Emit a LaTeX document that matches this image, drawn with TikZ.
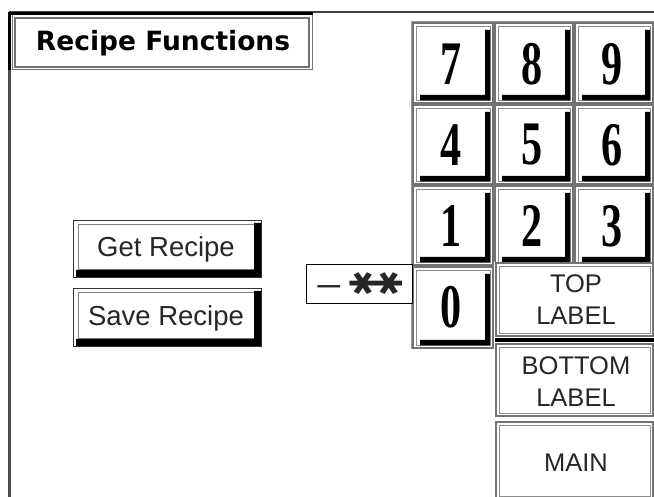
\documentclass[tikz,border=0pt]{standalone}
\usepackage{fontspec}
\usepackage{graphicx}
\newfontfamily\dvfont{DejaVu Sans}
\newfontfamily\arfont{Liberation Sans}
\newfontfamily\digfont{Liberation Serif}
\tikzset{
  keyout/.style={draw=black!55, line width=1.6pt},
  keyin/.style={draw=black!45, line width=0.9pt},
  digit/.style={inner sep=0pt, font=\digfont\bfseries\fontsize{62}{62}\selectfont},
  lbl/.style={inner sep=0pt, align=center, text=black!85, font=\arfont\fontsize{25.5}{32}\selectfont},
  btntext/.style={inner sep=0pt, text=black!85, font=\arfont\fontsize{27.5}{30}\selectfont},
}
\newcommand\keybox[4]{%
  \fill[white] (#1,#2) rectangle (#3,#4);
  \draw[keyout] (#1+1,#2+1) rectangle (#3-1,#4-1);
  \draw[keyin] (#1+4,#2+4) rectangle (#3-4,#4-4);
  \fill[black] (#3-4,#2+8) -- (#3-4,#4-3.5) -- (#1+8,#4-3.5) -- (#1+8,#4-9) -- (#3-9,#4-9) -- (#3-9,#2+8) -- cycle;
}
\newcommand\lblbox[4]{%
  \fill[white] (#1,#2) rectangle (#3,#4);
  \draw[keyout] (#1+1,#2+1) rectangle (#3-1,#4-1);
  \draw[keyin] (#1+4,#2+4) rectangle (#3-4,#4-4);
}
\newcommand\btnbox[4]{%
  \fill[white] (#1,#2) rectangle (#3,#4);
  \draw[black!80, line width=1.2pt] (#1+0.6,#2+0.6) rectangle (#3-0.6,#4-0.6);
  \draw[black!50, line width=1pt] (#1+5,#2+5) rectangle (#3-8,#4-8);
  \fill[black] (#3-1,#2+3) -- (#3-1,#4-1) -- (#1+3,#4-1) -- (#1+3,#4-8) -- (#3-8,#4-8) -- (#3-8,#2+3) -- cycle;
}
\begin{document}
\begin{tikzpicture}[x=1pt,y=-1pt]
\useasboundingbox (0,0) rectangle (654,497);
\fill[white] (0,0) rectangle (654,497);
% frame
\draw[black!75, line width=1.6pt] (9,12) -- (654,12);
\draw[black!70, line width=3pt] (9.5,12) -- (9.5,497);
% title box
\fill[white] (10,14) rectangle (313,70);
\draw[black!55, line width=1.6pt] (15,18) rectangle (309,67);
\draw[black!55, line width=1pt] (12,15) rectangle (312,69.5);
\draw[black, line width=3pt] (9,13.5) -- (313,13.5);
\draw[black, line width=3pt] (9.5,12) -- (9.5,70);
\node[inner sep=0pt, font=\dvfont\bfseries\fontsize{26.5}{26}\selectfont] (title) at (163,43) {Recipe Functions};
% keypad background
\fill[black!40] (411,21) rectangle (654,349);
% keys
\keybox{412}{22}{494}{104}
\keybox{494}{22}{574}{104}
\keybox{574}{22}{654}{104}
\keybox{412}{104}{494}{185}
\keybox{494}{104}{574}{185}
\keybox{574}{104}{654}{185}
\keybox{412}{185}{494}{266}
\keybox{494}{185}{574}{266}
\keybox{574}{185}{654}{266}
\keybox{412}{266}{494}{349}
\node[digit] (k7) at (451,64) {\scalebox{0.68}[1]{7}};
\node[digit] (k8) at (532,64) {\scalebox{0.68}[1]{8}};
\node[digit] (k9) at (612,64) {\scalebox{0.68}[1]{9}};
\node[digit] (k4) at (451,145) {\scalebox{0.68}[1]{4}};
\node[digit] (k5) at (532,145) {\scalebox{0.68}[1]{5}};
\node[digit] (k6) at (612,145) {\scalebox{0.68}[1]{6}};
\node[digit] (k1) at (451,226) {\scalebox{0.68}[1]{1}};
\node[digit] (k2) at (532,226) {\scalebox{0.68}[1]{2}};
\node[digit] (k3) at (612,226) {\scalebox{0.68}[1]{3}};
\node[digit] (k0) at (451,307) {\scalebox{0.68}[1]{0}};
% label boxes
\fill[white] (494,262) rectangle (654,497);
\lblbox{495}{262}{654}{337}
\fill[black] (495,338) rectangle (654,342.5);
\lblbox{495}{343}{654}{417}
\lblbox{495}{421}{654}{500}
\node[lbl] (top) at (576,300) {TOP\\LABEL};
\node[lbl] (bottom) at (576,382) {BOTTOM\\LABEL};
\node[lbl] (main) at (576,463) {MAIN};
% entry box
\draw[black, line width=1pt, fill=white] (306,265) rectangle (412,304);
\node[inner sep=0pt, text=black!85, font=\dvfont\fontsize{28}{28}\selectfont] (entry) at (358,284)
  {\scalebox{1.3}[1]{−}\hspace{6pt}\scalebox{1.3}[1.1]{\rotatebox[origin=c]{90}{✱}}\hspace{-1pt}\scalebox{1.3}[1.1]{\rotatebox[origin=c]{90}{✱}}};
% buttons
\btnbox{73}{220}{262}{278}
\btnbox{73}{288}{262}{347}
\node[btntext] (get) at (166,249) {Get Recipe};
\node[btntext] (save) at (166,318) {Save Recipe};
\end{tikzpicture}
\end{document}
